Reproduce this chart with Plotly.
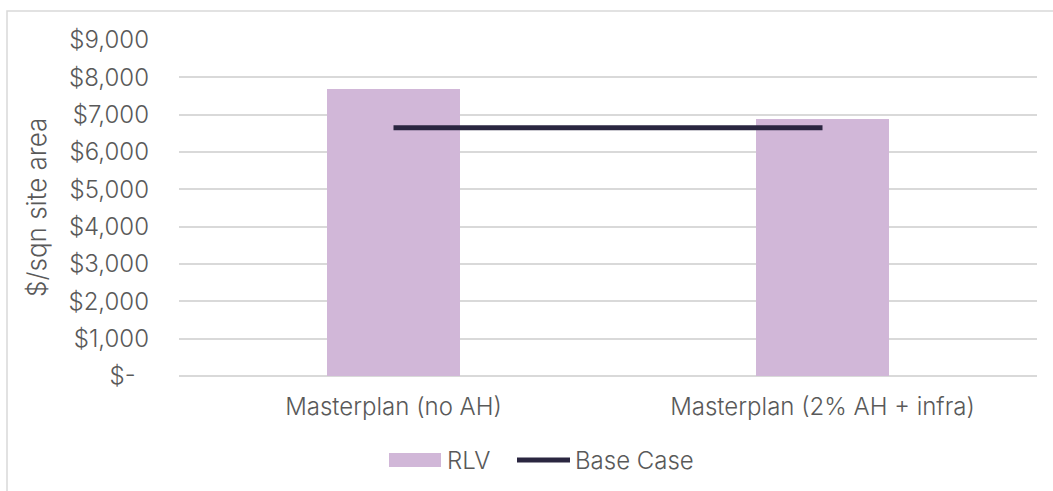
import plotly.graph_objects as go

# Residual land value per scheme and the base case benchmark
categories = ["Masterplan (no AH)", "Masterplan (2% AH + infra)"]
rlv_values = [7700, 6890]
base_case_values = [6650, 6650]
tick_values = [0, 1000, 2000, 3000, 4000, 5000, 6000, 7000, 8000, 9000]
tick_labels = ["$-\u00a0\u00a0", "$1,000", "$2,000", "$3,000", "$4,000", "$5,000",
               "$6,000", "$7,000", "$8,000", "$9,000"]

W, H = 1053, 491
ML, MR, MT, MB = 179, 16, 40, 115
PW, PH = W - ML - MR, H - MT - MB

BAR_COLOR = "#d1b7d8"
LINE_COLOR = "#2a2640"
TEXT_COLOR = "#595959"
GRID_COLOR = "#d9d9d9"
FONT = "Inter, Roboto, sans-serif"
FSIZE = 24
TITLE_SIZE = 26
FWEIGHT = 300


def px_x(x):
    return (x - ML) / PW


def px_y(y):
    return (H - MB - y) / PH


def txt_font(size=FSIZE):
    return dict(family=FONT, size=size, color=TEXT_COLOR, weight=FWEIGHT)


fig = go.Figure()
fig.add_trace(go.Bar(
    x=categories, y=rlv_values, name="RLV",
    marker=dict(color=BAR_COLOR, line=dict(width=0)),
    width=0.312, showlegend=False,
))
fig.add_trace(go.Scatter(
    x=categories, y=base_case_values, name="Base Case", mode="lines",
    line=dict(color=LINE_COLOR, width=5), showlegend=False,
))

shapes = [
    # chart frame (top and left edges visible)
    dict(type="rect", xref="paper", yref="paper",
         x0=px_x(7), x1=px_x(W + 20), y0=px_y(11), y1=px_y(H + 20),
         line=dict(color=GRID_COLOR, width=1.5), fillcolor="rgba(0,0,0,0)", layer="below"),
    # legend swatches
    dict(type="rect", xref="paper", yref="paper",
         x0=px_x(389), x1=px_x(441), y0=px_y(467), y1=px_y(453),
         line=dict(width=0), fillcolor=BAR_COLOR),
    dict(type="line", xref="paper", yref="paper",
         x0=px_x(517), x1=px_x(570), y0=px_y(460), y1=px_y(460),
         line=dict(color=LINE_COLOR, width=5)),
]

annotations = [
    dict(text="RLV", xref="paper", yref="paper", x=px_x(445), y=px_y(460),
         xanchor="left", yanchor="middle", showarrow=False, font=txt_font()),
    dict(text="Base Case", xref="paper", yref="paper", x=px_x(573), y=px_y(460),
         xanchor="left", yanchor="middle", showarrow=False, font=txt_font()),
    # y-axis title
    dict(text="$/sqn site area", xref="paper", yref="paper", x=px_x(36), y=px_y(208),
         xanchor="center", yanchor="middle", textangle=-90, showarrow=False,
         font=txt_font(TITLE_SIZE)),
]

fig.update_layout(
    width=W, height=H,
    margin=dict(l=ML, r=MR, t=MT, b=MB, pad=0),
    paper_bgcolor="white", plot_bgcolor="white",
    font=txt_font(),
    shapes=shapes, annotations=annotations,
    showlegend=False, bargap=0,
)
fig.update_xaxes(
    showgrid=False, showline=False, zeroline=False, ticks="",
    tickfont=txt_font(),
    ticklabelstandoff=14,
)
fig.update_yaxes(
    range=[0, 9000], tickvals=tick_values, ticktext=tick_labels,
    showgrid=True, gridcolor=GRID_COLOR, gridwidth=1.5,
    zeroline=True, zerolinecolor=GRID_COLOR, zerolinewidth=1.5,
    showline=False, ticks="",
    tickfont=txt_font(),
    ticklabelstandoff=29,
)

fig.write_html("out.html")
